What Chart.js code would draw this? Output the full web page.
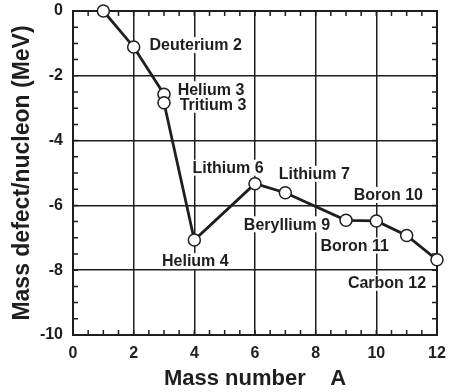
<!DOCTYPE html>
<html>
<head>
<meta charset="utf-8">
<script src="https://cdn.jsdelivr.net/npm/chart.js@4"></script>
<style>
  html, body { margin: 0; padding: 0; background: #fff; }
  #wrap { width: 449px; height: 392px; }
</style>
</head>
<body>
<div id="wrap"><canvas id="defectChart"></canvas></div>
<script>
// Values
const massNumbers = [1, 2, 3, 3, 4, 6, 7, 9, 10, 11, 12];
const massDefects = [0, -1.11, -2.57, -2.83, -7.07, -5.33, -5.61, -6.46, -6.48, -6.93, -7.68];
const nuclideNames = ['', 'Deuterium 2', 'Helium 3', 'Tritium 3', 'Helium 4', 'Lithium 6',
  'Lithium 7', 'Beryllium 9', 'Boron 10', 'Boron 11', 'Carbon 12'];
// label placement relative to its point (px)
const labelOffsets = [[0, 0], [62, -2], [47, -5], [49, 2], [1, 21], [-27, -16],
  [29, -19], [-59, 4], [12, -26], [-52, 10], [-50, 23]];

const xTicks = [0, 2, 4, 6, 8, 10, 12];
const yTicks = [0, -2, -4, -6, -8, -10];
const minorStep = 0.5;

const FONT = '"Liberation Sans", Arial, sans-serif';
const INK = '#1e1e1e';

// Inward minor ticks, frame and point labels
const decorPlugin = {
  id: 'decor',
  beforeDatasetsDraw(chart) {
    const { ctx, chartArea: a, scales: { x, y } } = chart;
    ctx.save();
    ctx.strokeStyle = INK;
    ctx.lineWidth = 1.5;
    ctx.beginPath();
    for (let v = x.min; v <= x.max + 1e-9; v += minorStep) {
      const px = x.getPixelForValue(v);
      ctx.moveTo(px, a.bottom); ctx.lineTo(px, a.bottom - 5);
      ctx.moveTo(px, a.top); ctx.lineTo(px, a.top + 5);
    }
    for (let v = y.min; v <= y.max + 1e-9; v += minorStep) {
      const py = y.getPixelForValue(v);
      ctx.moveTo(a.left, py); ctx.lineTo(a.left + 5, py);
      ctx.moveTo(a.right, py); ctx.lineTo(a.right - 5, py);
    }
    ctx.stroke();
    ctx.lineWidth = 2;
    ctx.strokeRect(a.left, a.top, a.right - a.left, a.bottom - a.top);

    // labels with white boxes hiding the grid behind them
    ctx.font = 'bold 16px ' + FONT;
    ctx.textAlign = 'center';
    ctx.textBaseline = 'middle';
    nuclideNames.forEach((name, i) => {
      if (!name) return;
      const cx = x.getPixelForValue(massNumbers[i]) + labelOffsets[i][0];
      const cy = y.getPixelForValue(massDefects[i]) + labelOffsets[i][1];
      const w = ctx.measureText(name).width;
      ctx.fillStyle = '#fff';
      ctx.fillRect(cx - w / 2 - 2, cy - 8, w + 4, 16);
      ctx.fillStyle = INK;
      ctx.fillText(name, cx, cy + 1);
    });
    ctx.restore();
  }
};

const ctx = document.getElementById('defectChart').getContext('2d');
new Chart(ctx, {
  type: 'scatter',
  data: {
    datasets: [{
      data: massNumbers.map((a, i) => ({ x: a, y: massDefects[i] })),
      showLine: true,
      borderColor: INK,
      borderWidth: 2.8,
      pointRadius: 6,
      pointBorderWidth: 1.5,
      pointBackgroundColor: '#fff',
      pointBorderColor: INK,
      clip: false
    }]
  },
  options: {
    responsive: true,
    maintainAspectRatio: false,
    animation: false,
    layout: { padding: { top: 11, right: 12, left: 0, bottom: 0 } },
    plugins: { legend: { display: false }, tooltip: { enabled: false } },
    scales: {
      x: {
        type: 'linear',
        min: 0, max: 12,
        afterBuildTicks: (s) => { s.ticks = xTicks.map(v => ({ value: v })); },
        afterFit: (s) => { s.height = 57; s.paddingLeft = 0; s.paddingRight = 0; },
        ticks: { color: INK, padding: 9, font: { family: FONT, size: 16, weight: 'bold' } },
        grid: { color: INK, lineWidth: 1.5, drawTicks: false },
        border: { display: false },
        title: {
          display: true,
          text: 'Mass number    A',
          color: INK,
          padding: { top: 0, bottom: 0 },
          font: { family: FONT, size: 22, weight: 'bold' }
        }
      },
      y: {
        min: -10, max: 0,
        afterBuildTicks: (s) => { s.ticks = yTicks.map(v => ({ value: v })); },
        afterFit: (s) => { s.width = 73; s.paddingTop = 0; s.paddingBottom = 0; },
        ticks: { color: INK, padding: 10, font: { family: FONT, size: 16, weight: 'bold' } },
        grid: { color: INK, lineWidth: 1.5, drawTicks: false },
        border: { display: false },
        title: {
          display: true,
          text: 'Mass defect/nucleon (MeV)',
          color: INK,
          padding: { top: 9, bottom: 0 },
          font: { family: FONT, size: 23, weight: 'bold' }
        }
      }
    }
  },
  plugins: [decorPlugin]
});
</script>
</body>
</html>
